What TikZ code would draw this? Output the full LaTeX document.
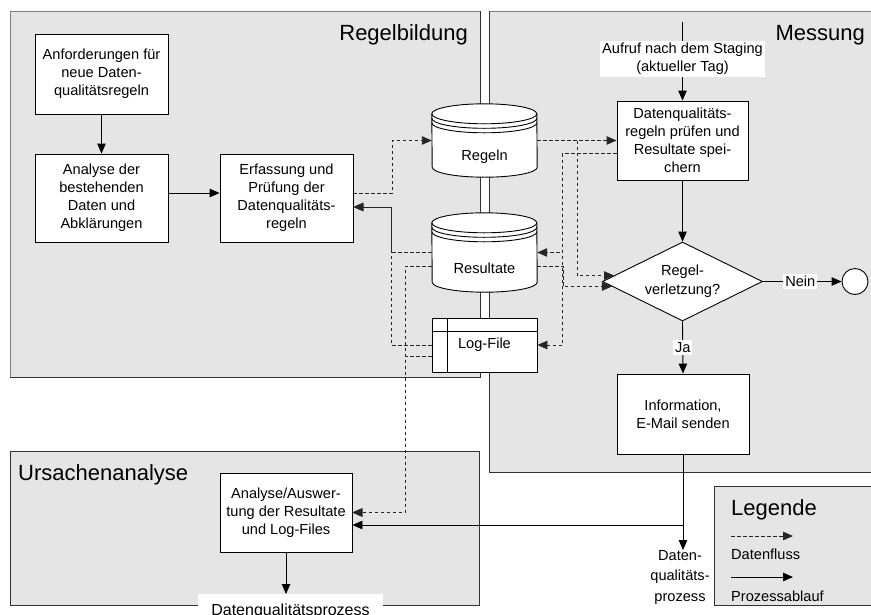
\documentclass[tikz,border=0pt]{standalone}
\usepackage{fontspec}
\setmainfont{Liberation Sans}
\usetikzlibrary{arrows.meta,shapes.geometric,calc}
\definecolor{panelgray}{HTML}{E5E5E5}
\newcommand\mycylshape[1]{%
  \filldraw[fill=white, draw=black, line width=0.9pt] ([yshift=-10pt]#1.north west) arc[start angle=180, end angle=0, x radius=52.5pt, y radius=10pt] -- ([yshift=10pt]#1.south east) arc[start angle=0, end angle=-180, x radius=52.5pt, y radius=10pt] -- cycle;
  \draw[line width=0.9pt] ([yshift=-10pt]#1.north west) arc[start angle=180, end angle=360, x radius=52.5pt, y radius=10pt];
  \draw[line width=0.9pt] ([yshift=-14.5pt]#1.north west) arc[start angle=180, end angle=360, x radius=52.5pt, y radius=10pt];
  \draw[line width=0.9pt] ([yshift=-19pt]#1.north west) arc[start angle=180, end angle=360, x radius=52.5pt, y radius=10pt];
}
\begin{document}
\begin{tikzpicture}[x=1pt,y=-1pt,
  txt/.style={font=\fontsize{14.6}{18}\selectfont},
  box/.style={txt, draw=black, fill=white, line width=0.9pt, align=center, inner sep=0pt},
  pf/.style={draw=black, line width=0.9pt, -{Triangle[length=10pt,width=8.5pt]}},
  df/.style={draw=black!85, line width=0.9pt, dash pattern=on 3.5pt off 2.5pt, -{Triangle[length=10pt,width=8.5pt]}},
  lbl/.style={txt, fill=white, inner sep=2pt, align=center},
  title/.style={font=\fontsize{22}{26}\selectfont, inner sep=0pt},
  border/.style={draw=black!80, line width=0.9pt},
  lightborder/.style={draw=black!50, line width=0.9pt},
]
\useasboundingbox (0,0) rectangle (871,614);
\fill[white] (0,0) rectangle (871,614);

% panels
\fill[panelgray] (10,11) rectangle (480,377);
\fill[panelgray] (489,11) rectangle (880,472);
\fill[panelgray] (10,451) rectangle (479,605);
\fill[panelgray] (714,486) rectangle (880,605);
\draw[lightborder] (10,377) -- (10,11) -- (480,11);
\draw[border] (480,11) -- (480,377) -- (10,377);
\draw[lightborder] (489,11) -- (880,11);
\draw[border] (489,11) -- (489,472) -- (880,472);
\draw[border] (10,605) -- (10,451) -- (479,451) -- (479,605) -- cycle;
\draw[border] (880,486) -- (714,486) -- (714,605) -- (880,605);

% titles
\node[title, anchor=base east] (t1) at (468,40.7) {Regelbildung};
\node[title, anchor=base east] (t2) at (865,40) {Messung};
\node[title, anchor=base west] (t3) at (18,480) {Ursachenanalyse};
\node[title, anchor=base west] (t4) at (731,515) {Legende};

% Regelbildung
\node[box, minimum width=133pt, minimum height=80pt] (a1) at (101.5,74) {Anforderungen für\\neue Daten-\\qualitätsregeln};
\node[box, minimum width=133pt, minimum height=88pt] (a2) at (101.5,198) {Analyse der\\bestehenden\\Daten und\\Abklärungen};
\node[box, minimum width=133pt, minimum height=88pt] (a3) at (286.5,198) {Erfassung und\\Prüfung der\\Datenqualitäts-\\regeln};

% data stores
\node[minimum width=105pt, minimum height=73pt, inner sep=0pt] (regeln) at (484.5,140.5) {};
\node[minimum width=105pt, minimum height=79pt, inner sep=0pt] (res) at (484.5,252.5) {};
\mycylshape{regeln}
\mycylshape{res}
\node[txt] (regelnt) at (484.5,157) {Regeln};
\node[txt] (rest) at (484.5,268) {Resultate};
\node[box, minimum width=105pt, minimum height=54pt] (logf) at (484.5,345) {Log-File};
\draw[line width=0.9pt] ([yshift=-14pt]logf.north west) -- ([yshift=-14pt]logf.north east);
\draw[line width=0.9pt] ([xshift=16pt]logf.north west) -- ([xshift=16pt]logf.south west);

% Messung
\coordinate (start) at (682.5,22);
\node[box, minimum width=131pt, minimum height=79pt] (m1) at (682.5,140.5) {Datenqualitäts-\\regeln prüfen und\\Resultate spei-\\chern};
\draw[pf] (start) -- (m1.north);
\node[lbl] (aufruf) at (682.5,59) {Aufruf nach dem Staging\\(aktueller Tag)};
\node[draw=black, fill=white, line width=0.9pt, diamond, aspect=2.03, minimum width=160pt, minimum height=79pt, inner sep=0pt, align=center, font=\fontsize{14.6}{19}\selectfont] (dia) at (682.5,281.5) {Regel-\\verletzung?};
\node[box, minimum width=132pt, minimum height=80pt] (info) at (683,414) {Information,\\E-Mail senden};
\node[draw=black, fill=white, circle, minimum size=26pt, inner sep=0pt, line width=0.9pt] (endc) at (855,281.5) {};

\draw[pf] (m1.south) -- (dia.north);
\draw[pf] (dia.south) -- node[lbl] (ja) {Ja} (info.north);
\draw[pf] (dia.east) -- node[lbl, pos=0.475] (nein) {Nein} (endc.west);

% Ursachenanalyse
\node[box, minimum width=132pt, minimum height=79pt] (u1) at (286,512.5) {Analyse/Auswer-\\tung der Resultate\\und Log-Files};
\node[fill=white, font=\fontsize{16}{19}\selectfont, anchor=north, inner xsep=13.5pt, inner ysep=10pt] (dqp2) at (290.5,594) {Datenqualitätsprozess};
\draw[pf] (u1.south) -- (u1.south |- dqp2.north);

% process end
\node[font=\fontsize{14.6}{20.5}\selectfont, align=center, anchor=north, inner sep=0pt] (dqp) at (680,550) {Daten-\\qualitäts-\\prozess};
\draw[pf] (info.south) -- (info.south |- dqp.north);
\coordinate (jn) at (683,525);
\draw[pf] (jn) -- (jn -| u1.east);

% process flow Regelbildung
\draw[pf] (a1.south) -- (a2.north);
\draw[pf] ([yshift=5pt]a2.east) -- ([yshift=5pt]a3.west);

% data flows
\draw[df] ([yshift=5pt]a3.east) -- ++(39,0) |- (regeln.west);
\draw[df] (regeln.east) -- (m1.west);
\coordinate (b1) at (577,140.5);
\draw[df] (b1) |- (dia.175.4);
\draw[df] ([yshift=-13pt]m1.west) -- ++(-54,0) |- (res.east);
\draw[df] ([yshift=-13pt]m1.west) -- ++(-54,0) |- (logf.east);
\draw[df] ([yshift=-13.5pt]res.east) -- ++(26,0) |- (dia.184.6);
\draw[df] (res.west) -- ++(-40,0) |- ([yshift=-9pt]a3.east);
\draw[df] (logf.west) -- ++(-40,0) |- ([yshift=-9pt]a3.east);
\draw[df] ([yshift=-13.5pt]res.west) -- ++(-26.5,0) |- (u1.east);
\draw[df] ([yshift=-11pt]logf.west) -- ++(-26.5,0) |- (u1.east);

% legend
\coordinate (l1a) at (731,536);
\coordinate (l1b) at (793,536);
\draw[df] (l1a) -- (l1b);
\node[txt, anchor=west, inner sep=0pt] (l1t) at (731,554) {Datenfluss};
\coordinate (l2a) at (731,577);
\coordinate (l2b) at (793,577);
\draw[pf] (l2a) -- (l2b);
\node[txt, anchor=west, inner sep=0pt] (l2t) at (731,596) {Prozessablauf};
\end{tikzpicture}
\end{document}
